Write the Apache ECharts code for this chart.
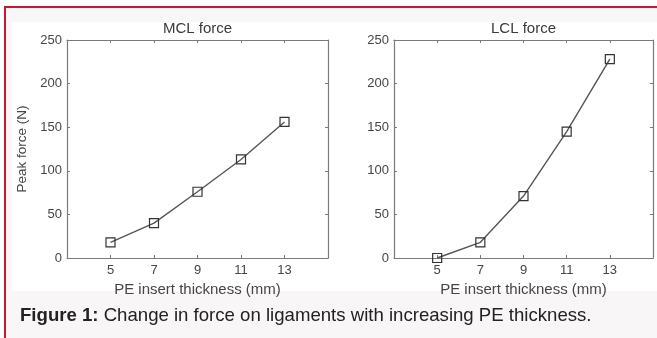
<!DOCTYPE html>
<html>
<head>
<meta charset="utf-8">
<script src="https://cdn.jsdelivr.net/npm/echarts@6/dist/echarts.min.js"></script>
<style>
  html, body { margin: 0; padding: 0; width: 657px; height: 338px; overflow: hidden; background: #ffffff; }
  #frame { position: absolute; left: 4px; top: 6px; width: 653px; height: 332px;
           background: #f8f6f6; border-left: 2px solid #c8153a; border-top: 2px solid #c8153a; box-sizing: border-box; }
  #panel { position: absolute; left: 12px; top: 22px; width: 645px; height: 269px; background: #ffffff; }
  #chart { position: absolute; left: 0; top: 0; width: 657px; height: 338px; }
</style>
</head>
<body>
<div id="frame"></div>
<div id="panel"></div>
<div id="chart"></div>
<script>
// Peak ligament force versus polyethylene insert thickness
const thickness = [5, 7, 9, 11, 13];          // mm
const mclForce = [18, 40, 76, 113, 156];      // N
const lclForce = [0, 18, 71, 145, 228];       // N
const xTicks = [5, 7, 9, 11, 13];
const yTicks = [0, 50, 100, 150, 200, 250];
const panelTitles = ['MCL force', 'LCL force'];
const xName = 'PE insert thickness (mm)';
const yName = 'Peak force (N)';
const captionLead = 'Figure 1:';
const captionText = ' Change in force on ligaments with increasing PE thickness.';

const FONT = "'Liberation Sans', Arial, Helvetica, sans-serif";
const AXIS_COLOR = '#7a7a7a';
const TEXT_COLOR = '#454545';

const grids = [
  { left: 67, top: 40, width: 261, height: 218 },
  { left: 394, top: 40, width: 259, height: 218 }
];

function xAxisFor(gridIndex, position) {
  const isBottom = position === 'bottom';
  return {
    type: 'value', gridIndex, position, min: 3, max: 15,
    name: isBottom ? xName : '', nameLocation: 'middle', nameGap: 21,
    nameTextStyle: { color: TEXT_COLOR, fontFamily: FONT, fontSize: 15 },
    axisLine: { show: true, onZero: false, lineStyle: { color: AXIS_COLOR, width: 1.2 } },
    axisTick: { show: true, inside: true, length: 3, customValues: xTicks, lineStyle: { color: AXIS_COLOR } },
    axisLabel: { show: isBottom, customValues: xTicks, color: TEXT_COLOR, fontFamily: FONT, fontSize: 13, margin: 6 },
    splitLine: { show: false }
  };
}

function yAxisFor(gridIndex, position, withName) {
  const isLeft = position === 'left';
  return {
    type: 'value', gridIndex, position, min: 0, max: 250, interval: 50,
    name: withName ? yName : '', nameLocation: 'middle', nameGap: 38,
    nameTextStyle: { color: TEXT_COLOR, fontFamily: FONT, fontSize: 13.5 },
    axisLine: { show: true, onZero: false, lineStyle: { color: AXIS_COLOR, width: 1.2 } },
    axisTick: { show: true, inside: true, length: 3, lineStyle: { color: AXIS_COLOR } },
    axisLabel: { show: isLeft, color: TEXT_COLOR, fontFamily: FONT, fontSize: 13, margin: 5,
                 customValues: yTicks },
    splitLine: { show: false }
  };
}

function seriesFor(index, values) {
  return {
    type: 'line', xAxisIndex: index * 2, yAxisIndex: index * 2,
    data: thickness.map((t, i) => [t, values[i]]),
    symbol: 'rect', symbolSize: 9,
    itemStyle: { color: 'rgba(255,255,255,0)', borderColor: '#333333', borderWidth: 1.2 },
    lineStyle: { color: '#555555', width: 1.4 },
    emphasis: { disabled: true },
    animation: false
  };
}

const chart = echarts.init(document.getElementById('chart'), null, { renderer: 'canvas' });
chart.setOption({
  backgroundColor: 'transparent',
  animation: false,
  grid: grids,
  xAxis: [xAxisFor(0, 'bottom'), xAxisFor(0, 'top'), xAxisFor(1, 'bottom'), xAxisFor(1, 'top')],
  yAxis: [yAxisFor(0, 'left', true), yAxisFor(0, 'right', false), yAxisFor(1, 'left', false), yAxisFor(1, 'right', false)],
  series: [seriesFor(0, mclForce), seriesFor(1, lclForce)],
  graphic: [
    { type: 'text', x: grids[0].left + grids[0].width / 2, y: 29,
      style: { text: panelTitles[0], fill: '#3a3a3a', font: '15px ' + FONT, align: 'center', verticalAlign: 'middle' } },
    { type: 'text', x: grids[1].left + grids[1].width / 2, y: 29,
      style: { text: panelTitles[1], fill: '#3a3a3a', font: '15px ' + FONT, align: 'center', verticalAlign: 'middle' } },
    { type: 'text', x: 20, y: 316,
      style: { text: '{b|' + captionLead + '}' + captionText,
               fill: '#222222', font: '18.6px ' + FONT, verticalAlign: 'middle',
               rich: { b: { fontWeight: 'bold', fontSize: 18.6, fontFamily: FONT, fill: '#222222' } } } }
  ]
});
</script>
</body>
</html>
